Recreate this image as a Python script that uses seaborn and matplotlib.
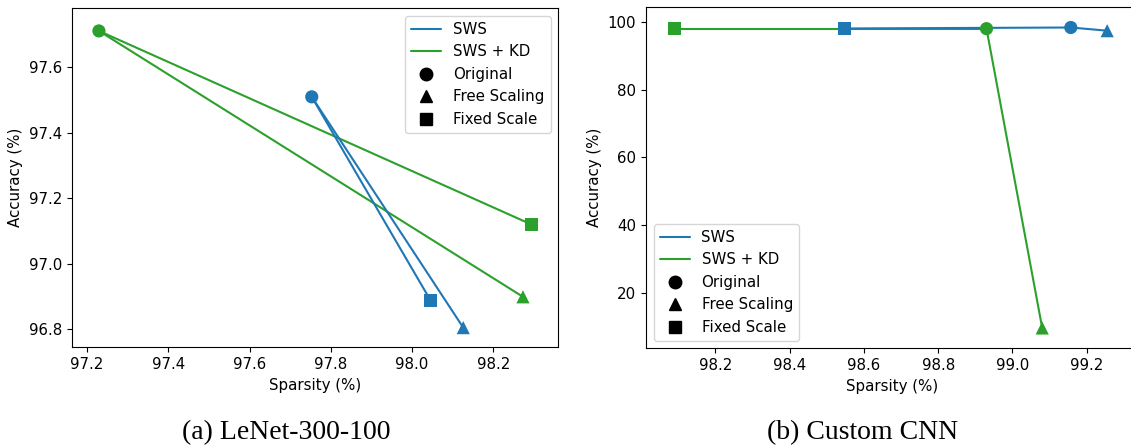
import matplotlib
matplotlib.use("Agg")
import matplotlib.pyplot as plt
from matplotlib.lines import Line2D
import seaborn as sns
import pandas as pd

# ---- data ----
variants = ["Original", "Free Scaling", "Fixed Scale"]
methods = ["SWS", "SWS + KD"]

lenet_sws_x = [97.753, 98.126, 98.045]
lenet_sws_y = [97.509, 96.805, 96.889]
lenet_kd_x = [97.229, 98.273, 98.295]
lenet_kd_y = [97.710, 96.899, 97.119]

cnn_sws_x = [99.157, 99.255, 98.548]
cnn_sws_y = [98.34, 97.40, 98.05]
cnn_kd_x = [98.93, 99.08, 98.09]
cnn_kd_y = [98.00, 9.70, 98.00]

captions = ["(a) LeNet-300-100", "(b) Custom CNN"]

palette = {"SWS": "#1f77b4", "SWS + KD": "#2ca02c"}
markers = {"Original": "o", "Free Scaling": "^", "Fixed Scale": "s"}

sns.set_theme(style="ticks", rc={
    "axes.edgecolor": "black", "axes.linewidth": 0.8,
    "xtick.color": "black", "ytick.color": "black",
    "xtick.major.width": 0.8, "ytick.major.width": 0.8,
    "xtick.major.size": 3.5, "ytick.major.size": 3.5,
    "axes.labelcolor": "black", "text.color": "black",
    "font.size": 10.8, "axes.labelsize": 10.8,
    "xtick.labelsize": 10.8, "ytick.labelsize": 10.8,
    "legend.fontsize": 10.8,
})
plt.rcParams["font.family"] = ["DejaVu Sans"]


def build(sws_x, sws_y, kd_x, kd_y):
    pts, segs = [], []
    for m, xs, ys in [("SWS", sws_x, sws_y), ("SWS + KD", kd_x, kd_y)]:
        for v, x, y in zip(variants, xs, ys):
            pts.append(dict(method=m, variant=v, x=x, y=y))
        for i in (1, 2):
            seg = f"{m}-{variants[i]}"
            segs.append(dict(method=m, seg=seg, order=0, x=xs[0], y=ys[0]))
            segs.append(dict(method=m, seg=seg, order=1, x=xs[i], y=ys[i]))
    return pd.DataFrame(pts), pd.DataFrame(segs)


fig = plt.figure(figsize=(11.31, 4.48), dpi=100)
ax1 = fig.add_axes([71.7 / 1131, 1 - 347.3 / 448, (558.3 - 71.7) / 1131, (347.3 - 8.3) / 448])
ax2 = fig.add_axes([646 / 1131, 1 - 348.3 / 448, 492 / 1131, (348.3 - 7.3) / 448])

panels = [
    (ax1, build(lenet_sws_x, lenet_sws_y, lenet_kd_x, lenet_kd_y),
     (97.162, 98.36), (96.745, 97.779), "upper right",
     [97.2, 97.4, 97.6, 97.8, 98.0, 98.2], [96.8, 97.0, 97.2, 97.4, 97.6]),
    (ax2, build(cnn_sws_x, cnn_sws_y, cnn_kd_x, cnn_kd_y),
     (98.013, 99.338), (3.7, 104.3), "lower left",
     [98.2, 98.4, 98.6, 98.8, 99.0, 99.2], [20, 40, 60, 80, 100]),
]

for ax, (pts, segs), xl, yl, loc, xt, yt in panels:
    for m in ["SWS + KD", "SWS"]:
        sns.lineplot(data=segs[segs.method == m], x="x", y="y", hue="method",
                     units="seg", estimator=None, sort=False, palette=palette,
                     legend=False, linewidth=1.5, ax=ax)
    sns.scatterplot(data=pts, x="x", y="y", hue="method", style="variant",
                    markers=markers, palette=palette, s=90, linewidth=0,
                    legend=False, ax=ax, zorder=3)
    ax.set_xlim(*xl)
    ax.set_ylim(*yl)
    ax.set_xticks(xt)
    ax.set_yticks(yt)
    if ax is ax1:
        ax.set_xticklabels([f"{v:.1f}" for v in xt])
        ax.set_yticklabels([f"{v:.1f}" for v in yt])
    ax.set_xlabel("Sparsity (%)")
    ax.set_ylabel("Accuracy (%)")
    for s in ax.spines.values():
        s.set_visible(True)
    handles = [Line2D([], [], color=palette[m], lw=1.5, label=m) for m in methods]
    handles += [Line2D([], [], color="black", ls="none", marker=markers[v],
                       markersize=9, label=v) for v in variants]
    ax.legend(handles=handles, loc=loc, frameon=True)

fig.text(286 / 1131, 1 - 433 / 448, captions[0], family="Liberation Serif",
         fontsize=20, ha="center", va="center")
fig.text(863 / 1131, 1 - 433 / 448, captions[1], family="Liberation Serif",
         fontsize=20, ha="center", va="center")

fig.savefig("out.png", dpi=100)
